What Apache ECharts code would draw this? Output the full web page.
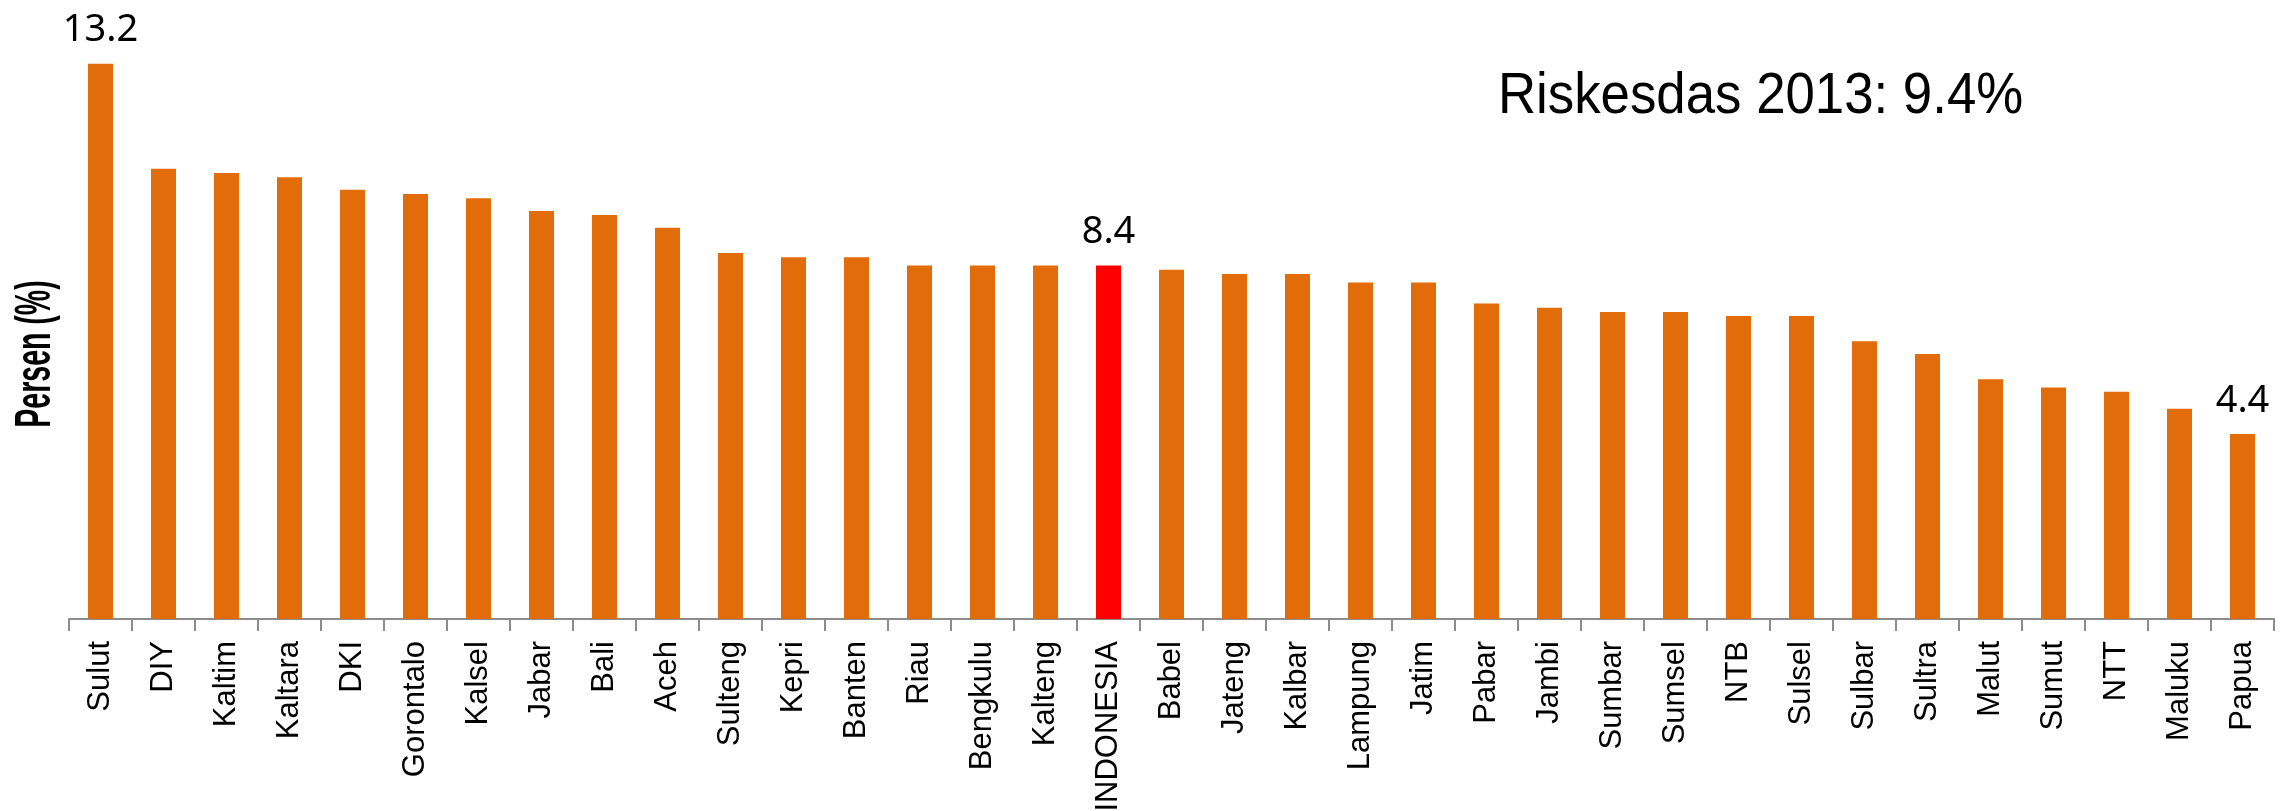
<!DOCTYPE html>
<html>
<head>
<meta charset="utf-8">
<script src="https://cdn.jsdelivr.net/npm/echarts@6/dist/echarts.min.js"></script>
<style>
html,body{margin:0;padding:0;background:#fff;}
#chart{width:2292px;height:811px;}
</style>
</head>
<body>
<div id="chart"></div>
<script>
const categories = ["Sulut","DIY","Kaltim","Kaltara","DKI","Gorontalo","Kalsel","Jabar","Bali","Aceh","Sulteng","Kepri","Banten","Riau","Bengkulu","Kalteng","INDONESIA","Babel","Jateng","Kalbar","Lampung","Jatim","Pabar","Jambi","Sumbar","Sumsel","NTB","Sulsel","Sulbar","Sultra","Malut","Sumut","NTT","Maluku","Papua"];
const values = [13.2,10.7,10.6,10.5,10.2,10.1,10.0,9.7,9.6,9.3,8.7,8.6,8.6,8.4,8.4,8.4,8.4,8.3,8.2,8.2,8.0,8.0,7.5,7.4,7.3,7.3,7.2,7.2,6.6,6.3,5.7,5.5,5.4,5.0,4.4];
const labelled = ["Sulut","INDONESIA","Papua"];
const highlight = "INDONESIA";
const yName = "Persen (%)";
const note = "Riskesdas 2013: 9.4%";

const sans = "'Liberation Sans',Arial,sans-serif";
const chart = echarts.init(document.getElementById('chart'), null, {renderer:'canvas'});
const data = categories.map((c,i)=>({
  value: values[i],
  itemStyle: {color: c===highlight ? '#FF0000' : '#E36C0A'},
  label: {show: labelled.includes(c)}
}));
chart.setOption({
  animation:false,
  backgroundColor:'#ffffff',
  grid:{left:69,right:18,top:30,bottom:192,containLabel:false,outerBoundsMode:'none'},
  xAxis:{
    type:'category',
    data:categories,
    axisLine:{lineStyle:{color:'#8c8c8c',width:2}},
    axisTick:{show:true,length:12,lineStyle:{color:'#8c8c8c',width:2}},
    axisLabel:{rotate:90,margin:22,color:'#000',fontSize:31,fontFamily:sans,interval:0}
  },
  yAxis:{
    type:'value',min:0,max:14,interval:2,
    axisLine:{show:false},axisTick:{show:false},axisLabel:{show:false},splitLine:{show:false}
  },
  series:[{
    type:'bar',
    data:data,
    barWidth:25,
    label:{position:'top',distance:14,color:'#000',fontSize:38,fontFamily:"'Noto Sans','Open Sans',sans-serif",formatter:p=>p.value.toFixed(1)}
  }],
  graphic:[{
    type:'text',x:1498,y:68,scaleX:0.91,
    style:{text:note,fontSize:58,fontFamily:sans,fill:'#000',textVerticalAlign:'top'}
  },{
    type:'text',x:36,y:354,rotation:Math.PI/2,scaleX:0.57,
    style:{text:yName,fontSize:50,fontWeight:'bold',fontFamily:sans,fill:'#000',textAlign:'center',textVerticalAlign:'middle'}
  }]
});
</script>
</body>
</html>
